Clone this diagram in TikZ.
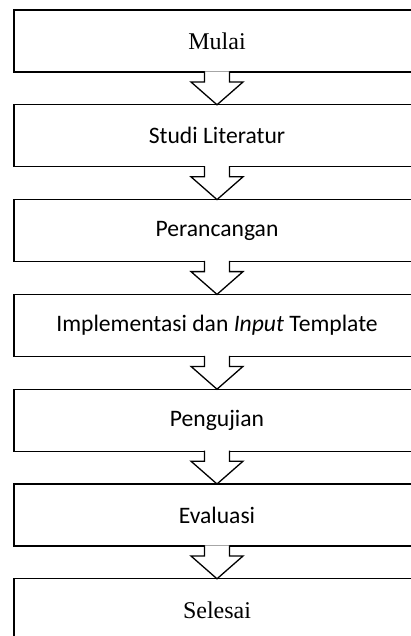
\documentclass[tikz,border=0pt]{standalone}
\usepackage{fontspec}
\setmainfont{Liberation Serif}
\newfontfamily\calibri{Carlito}
\usetikzlibrary{positioning,calc}
\tikzset{
  stage/.style={outer sep=0pt,minimum width=406pt,
    minimum height=62pt,inner sep=0pt,font=\fontsize{24}{28}\selectfont},
  sstage/.style={stage,font=\calibri\fontsize{23.6}{27}\selectfont},
  frame/.style={draw,line width=1.3pt,line join=miter},
  flow/.style={draw,line width=1.3pt,fill=white,line join=miter}
}
\begin{document}
\begin{tikzpicture}[x=1pt,y=1pt,node distance=32.8pt]
	\useasboundingbox (0,0) rectangle (411,-636);
	% tahapan
	\node[stage] (mulai) at (217,-41) {Mulai};
	\node[sstage,below=of mulai] (studi) {Studi Literatur};
	\node[sstage,below=of studi] (rancang) {Perancangan};
	\node[sstage,below=of rancang] (impl) {Implementasi dan \textit{Input} Template};
	\node[sstage,below=of impl] (uji) {Pengujian};
	\node[sstage,below=of uji] (eval) {Evaluasi};
	\node[stage,below=of eval] (selesai) {Selesai};
	% kotak, sisi kanan di luar gambar
	\foreach \n in {mulai,studi,rancang,impl,uji,eval,selesai}
	  \draw[frame] ($(\n.north east)+(10,0)$) -- (\n.north west)
	    -- (\n.south west) -- ($(\n.south east)+(10,0)$);
	% panah blok
	\foreach \a/\b in {mulai/studi,studi/rancang,rancang/impl,impl/uji,uji/eval,eval/selesai}
	  \draw[flow] ($(\a.south)+(-12.5,0.65)$) -- ($(\a.south)+(-12.5,-10)$)
	    -- ($(\a.south)+(-26,-10)$) -- (\b.north) -- ($(\a.south)+(26,-10)$)
	    -- ($(\a.south)+(12.5,-10)$) -- ($(\a.south)+(12.5,0.65)$);
\end{tikzpicture}
\end{document}
